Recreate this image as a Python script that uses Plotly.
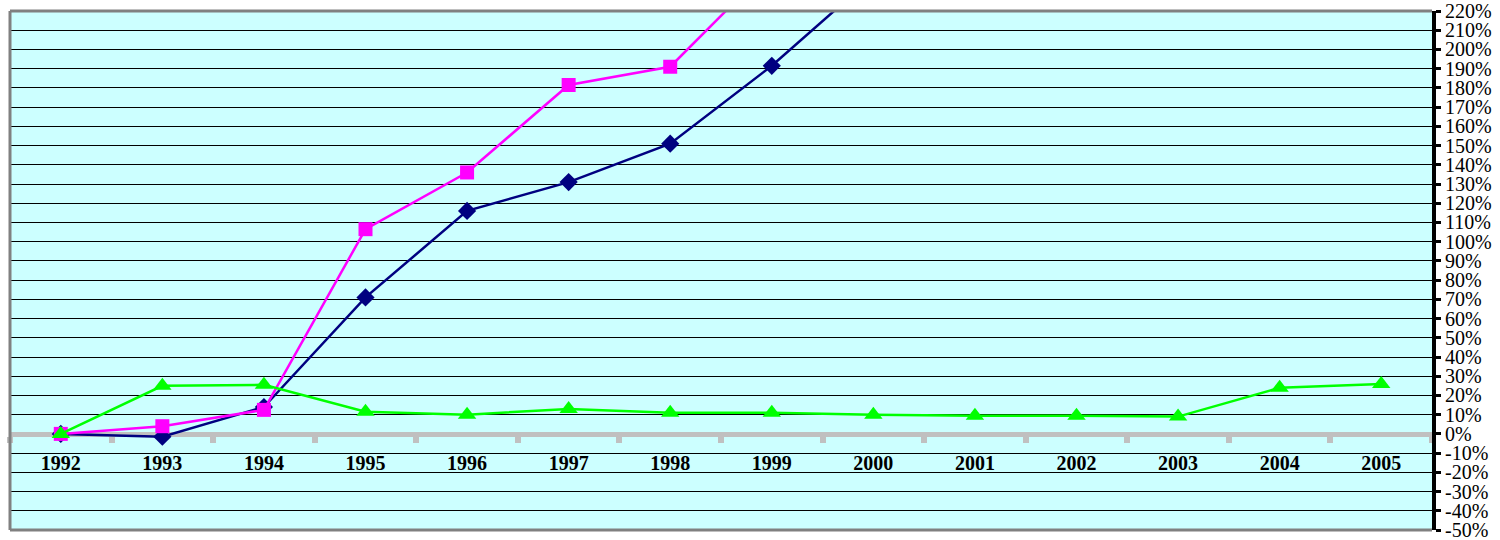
import plotly.graph_objects as go

years = ["1992", "1993", "1994", "1995", "1996", "1997", "1998", "1999",
         "2000", "2001", "2002", "2003", "2004", "2005"]
navy_vals = [0, -1.5, 14, 71, 116, 131, 151, 191.5, 238, None, None, None, None, None]
pink_vals = [0, 4, 12.5, 106.5, 136, 181.5, 191, 244, None, None, None, None, None, None]
green_vals = [0, 25, 25.5, 11.5, 10, 13, 11, 11, 10, 9.4, 9.4, 9, 24, 26]
y_ticks = list(range(-50, 221, 10))
y_tick_text = [f"{v}%" for v in y_ticks]

fig = go.Figure()
fig.add_trace(go.Scatter(x=years, y=navy_vals, mode="lines+markers",
                         line=dict(color="#000080", width=2.5),
                         marker=dict(symbol="diamond", size=14, color="#000080"),
                         showlegend=False))
fig.add_trace(go.Scatter(x=years, y=pink_vals, mode="lines+markers",
                         line=dict(color="#FF00FF", width=2.5),
                         marker=dict(symbol="square", size=14, color="#FF00FF"),
                         showlegend=False))
fig.add_trace(go.Scatter(x=years, y=green_vals, mode="lines+markers",
                         line=dict(color="#00FF00", width=2.5),
                         marker=dict(symbol="triangle-up", size=16, color="#00FF00"),
                         showlegend=False))

ymin, ymax = -50, 220
zero_pos = (0 - ymin) / (ymax - ymin)
serif = "Liberation Serif, Times New Roman, serif"

fig.update_layout(
    width=1500, height=540,
    margin=dict(l=10, r=68, t=11, b=10, autoexpand=False),
    paper_bgcolor="white",
    plot_bgcolor="#CCFFFF",
    showlegend=False,
    xaxis=dict(
        type="category", range=[-0.5, 13.5], automargin=False,
        anchor="free", position=zero_pos, layer="below traces",
        showline=True, linecolor="#C0C0C0", linewidth=5,
        ticks="outside", tickson="boundaries", ticklen=6, tickwidth=6, tickcolor="#C0C0C0",
        showgrid=False, zeroline=False,
        tickfont=dict(family=serif, size=20, color="black", weight="bold"),
        ticklabelstandoff=9,
    ),
    yaxis=dict(
        range=[ymin, ymax], side="right", automargin=False,
        tickmode="array", tickvals=y_ticks, ticktext=y_tick_text,
        ticklabeloverflow="allow",
        showline=True, linecolor="black", linewidth=4,
        ticks="outside", ticklen=5, tickwidth=3, tickcolor="black",
        showgrid=True, gridcolor="black", gridwidth=1,
        zeroline=False,
        tickfont=dict(family=serif, size=20, color="black"),
    ),
    shapes=[
        dict(type="line", xref="paper", yref="paper", x0=0, x1=0, y0=0, y1=1,
             line=dict(color="#808080", width=3), layer="above"),
        dict(type="line", xref="paper", yref="paper", x0=0, x1=1, y0=1, y1=1,
             line=dict(color="#808080", width=3), layer="above"),
        dict(type="line", xref="paper", yref="paper", x0=0, x1=1, y0=0, y1=0,
             line=dict(color="#808080", width=3), layer="above"),
    ],
)

# remove the page's default 8px body margin so the figure fills the window
fig.write_html("out.html",
               config={"displayModeBar": False},
               post_script="document.body.style.margin='0';document.body.style.overflow='hidden';")
